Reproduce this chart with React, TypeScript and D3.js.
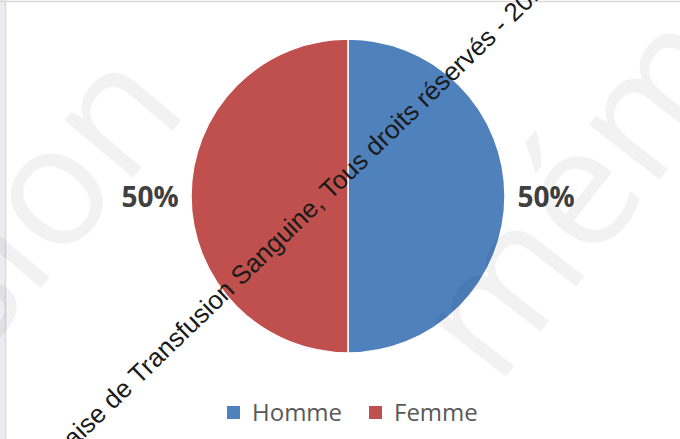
import React from "react";
import * as d3 from "d3";

const categories = ["Homme", "Femme"];
const values = [50, 50];
const colors = ["#4f81bd", "#c0504d"];
const labels = ["50%", "50%"];

const W = 680;
const H = 439;

export default function App() {
  const cx = 348;
  const cy = 196;
  const r = 157;
  const pie = d3.pie<number>().sort(null).startAngle(0).endAngle(2 * Math.PI);
  const arcs = pie(values);
  const arcGen = d3.arc<d3.PieArcDatum<number>>().innerRadius(0).outerRadius(r);
  const labelR = 198;
  const total = d3.sum(values);

  const legendX = [227, 369];
  const ang = -44;
  const ax = 139;
  const ay = 385.5;

  return (
    <div style={{ position: "fixed", left: 0, top: 0, width: W, height: H, background: "#fff" }}>
      <svg width={W} height={H} style={{ display: "block" }}>
        <rect x={0} y={0} width={W} height={H} fill="#ffffff" />
        <rect x={0} y={0} width={5} height={H} fill="#ececf2" />
        <line x1={5.5} y1={0} x2={5.5} y2={H} stroke="#dadada" strokeWidth={1.5} />
        <line x1={0} y1={1.5} x2={W} y2={1.5} stroke="#d9d9d9" strokeWidth={1.5} />

        <g transform={`translate(${cx},${cy})`}>
          {arcs.map((a, i) => (
            <path key={categories[i]} d={arcGen(a) || ""} fill={colors[i]} stroke="#ffffff" strokeWidth={1.5} />
          ))}
        </g>

        {arcs.map((a, i) => {
          const mid = (a.startAngle + a.endAngle) / 2;
          const x = cx + Math.sin(mid) * labelR;
          const y = cy - Math.cos(mid) * labelR + 11;
          return (
            <text key={"l" + i} x={x} y={y} textAnchor="middle" fontFamily="'Open Sans', sans-serif"
              fontWeight={700} fontSize={28} fill="#404040">
              {labels[i] ?? `${Math.round((a.value / total) * 100)}%`}
            </text>
          );
        })}

        {/* faint background watermark */}
        <g fill="#000" fillOpacity={0.05} fontFamily="'Open Sans', sans-serif" fontSize={168} fontWeight={500}>
          <text transform="translate(-20,360) rotate(-50)">sion</text>
          <text transform="translate(497,388) rotate(-52)">mém</text>
        </g>

        {/* diagonal text */}
        <g fontFamily="'Liberation Sans', Arial, sans-serif" fontSize={26} fill="#1a1a1a">
          <text transform={`translate(${ax},${ay}) rotate(${ang})`} textAnchor="end">{"Société Française de\u00A0"}</text>
          <text transform={`translate(${ax},${ay}) rotate(${ang})`}>Transfusion Sanguine, Tous droits réservés - 2019</text>
        </g>

        {categories.map((c, i) => (
          <g key={"lg" + c}>
            <rect x={legendX[i]} y={406} width={13} height={13} fill={colors[i]} />
            <text x={legendX[i] + 25} y={421} fontFamily="'Open Sans', sans-serif" fontSize={24} fill="#595959">
              {c}
            </text>
          </g>
        ))}
      </svg>
    </div>
  );
}
